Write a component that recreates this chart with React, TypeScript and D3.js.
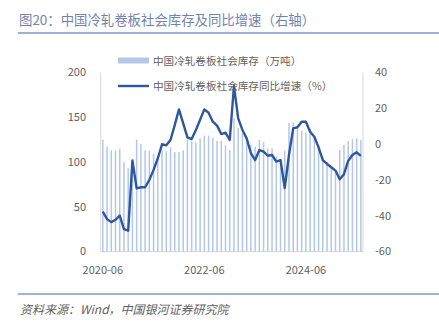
import React from "react";
import * as d3 from "d3";

const months: string[] = [
  "2020-06","2020-07","2020-08","2020-09","2020-10","2020-11","2020-12",
  "2021-01","2021-02","2021-03","2021-04","2021-05","2021-06","2021-07","2021-08","2021-09","2021-10","2021-11","2021-12",
  "2022-01","2022-02","2022-03","2022-04","2022-05","2022-06","2022-07","2022-08","2022-09","2022-10","2022-11","2022-12",
  "2023-01","2023-02","2023-03","2023-04","2023-05","2023-06","2023-07","2023-08","2023-09","2023-10","2023-11","2023-12",
  "2024-01","2024-02","2024-03","2024-04","2024-05","2024-06","2024-07","2024-08","2024-09","2024-10","2024-11","2024-12",
  "2025-01","2025-02","2025-03","2025-04","2025-05","2025-06","2025-07",
];

const inventory: number[] = [
  125, 117, 113, 113, 115, 100, 93, 95, 125, 120, 113, 112.5, 109, 106, 113, 112, 116.5, 111, 111,
  113, 125, 123, 122, 126.5, 129.5, 129.5, 127, 123.6, 123.6, 118.5, 113.5,
  149, 138, 132, 126.6, 119, 117, 124.7, 122, 115, 115, 106, 102,
  112.7, 143.4, 144, 139.7, 135, 133, 136.7, 127.7, 119, 106, 100, 94.7,
  89, 113.5, 119, 123.6, 125.5, 126.6, 124.7,
];

const yoy: number[] = [
  -37.7, -41.9, -43.6, -42.3, -39.9, -47.5, -48.4, -9.2, -24.7, -24.1, -24.1, -20, -14.4, -7.9, -0.1, -0.7, 2.3, 10.6, 19.4,
  11.6, 3.8, 2.8, 7.9, 13.6, 19.4, 17.5, 12.5, 10.3, 5.6, 6.4, 2.3,
  32.4, 14.4, 7.9, 3.2, -5.1, -8.9, -3.3, -4.2, -6.5, -6.1, -9.8, -8.9,
  -24.6, -6.1, 8.8, 9.4, 12.5, 12.5, 6.9, 4.1, -1.8, -8.9, -11.1, -12.9,
  -14.8, -19.6, -16.8, -9.4, -6.1, -4.6, -6.6,
];

const leftTicks: number[] = [0, 50, 100, 150, 200];
const rightTicks: number[] = [-60, -40, -20, 0, 20, 40];
const xTickLabels: string[] = ["2020-06", "2022-06", "2024-06"];

const title = "图20：中国冷轧卷板社会库存及同比增速（右轴）";
const legendBar = "中国冷轧卷板社会库存（万吨）";
const legendLine = "中国冷轧卷板社会库存同比增速（%）";
const source = "资料来源：Wind，中国银河证券研究院";

const FONT = "'Noto Sans CJK SC', 'Noto Sans', sans-serif";
const TEXT = "#5f5f5f";
const BAR = "#b4c7e7";
const LINE = "#2f56a0";
const ACCENT = "#8496c8";

export default function App() {
  const left = 100.7, right = 363, top = 72.5, bottom = 251.5;
  const x = d3.scaleBand<string>().domain(months).range([left, right]);
  const yL = d3.scaleLinear().domain([0, 200]).range([bottom, top]);
  const yR = d3.scaleLinear().domain([-60, 40]).range([bottom, top]);
  const cx = (m: string) => (x(m) as number) + x.bandwidth() / 2;
  const line = d3
    .line<number>()
    .x((_, i) => cx(months[i]))
    .y((d) => yR(d))
    .curve(d3.curveLinear);
  const barW = 1.5;

  return (
    <svg width={439} height={329} style={{ position: "absolute", left: 0, top: 0, fontFamily: FONT }}>
      <rect x={0} y={0} width={439} height={329} fill="#fff" />
      <text x={19} y={25} fontSize={13.4} fill="#7383ad">{title}</text>
      <line x1={18} x2={439} y1={33} y2={33} stroke={ACCENT} strokeWidth={1.6} />

      {/* axes lines */}
      <line x1={left} x2={left} y1={top} y2={bottom} stroke="#d9d9d9" strokeWidth={1} />
      <line x1={right} x2={right} y1={top} y2={bottom} stroke="#d9d9d9" strokeWidth={1} />
      <line x1={left} x2={right} y1={bottom} y2={bottom} stroke="#d9d9d9" strokeWidth={1} />

      {/* bars */}
      {inventory.map((v, i) => (
        <rect
          key={i}
          x={cx(months[i]) - barW / 2}
          y={yL(v)}
          width={barW}
          height={yL(0) - yL(v)}
          fill={BAR}
        />
      ))}

      {/* line */}
      <path d={line(yoy) || ""} fill="none" stroke={LINE} strokeWidth={2.4} strokeLinejoin="round" />

      {/* left ticks */}
      {leftTicks.map((t) => (
        <text key={t} x={86} y={yL(t)} dy="0.35em" textAnchor="end" fontSize={11} fill={TEXT}>
          {t}
        </text>
      ))}
      {/* right ticks */}
      {rightTicks.map((t) => (
        <text key={t} x={375} y={yR(t)} dy="0.35em" textAnchor="start" fontSize={11} fill={TEXT}>
          {t}
        </text>
      ))}
      {/* x ticks */}
      {xTickLabels.map((t) => (
        <text key={t} x={cx(t)} y={270} dy="0.35em" textAnchor="middle" fontSize={11} fill={TEXT}>
          {t}
        </text>
      ))}

      {/* legend */}
      <rect x={118} y={57.5} width={31} height={6} fill={BAR} />
      <text x={153} y={61} dy="0.35em" fontSize={10.6} fill={TEXT}>{legendBar}</text>
      <line x1={118} x2={149} y1={86} y2={86} stroke={LINE} strokeWidth={2.4} />
      <text x={153} y={86} dy="0.35em" fontSize={10.6} fill={TEXT}>{legendLine}</text>

      {/* footer */}
      <line x1={18} x2={439} y1={294} y2={294} stroke={ACCENT} strokeWidth={1.6} />
      <text x={20} y={309.5} dy="0.35em" fontSize={12} fontStyle="italic" fill={TEXT}>{source}</text>
    </svg>
  );
}
